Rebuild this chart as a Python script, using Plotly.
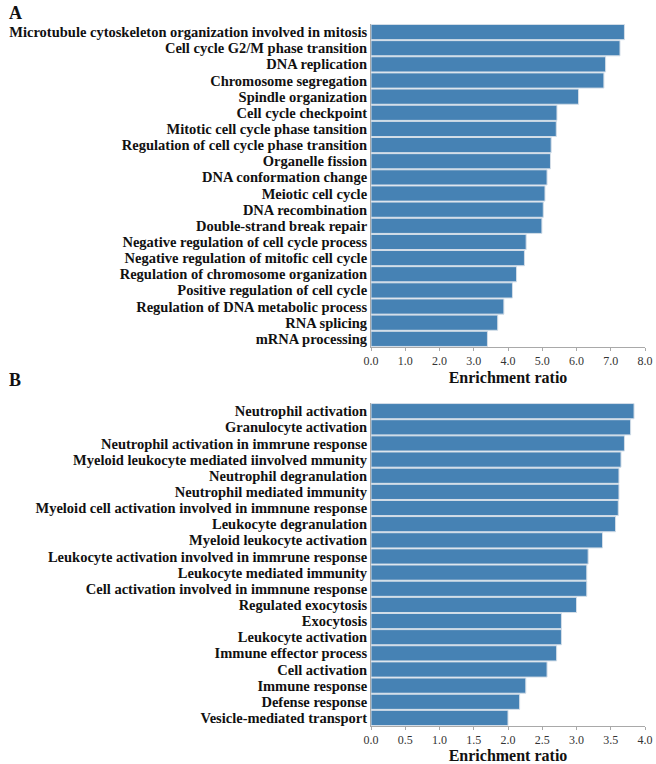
import plotly.graph_objects as go
from plotly.subplots import make_subplots

# ─── DATA ────────────────────────────────────────────────────
TERMS_A = [
    "Microtubule cytoskeleton organization involved in mitosis",
    "Cell cycle G2/M phase transition",
    "DNA replication",
    "Chromosome segregation",
    "Spindle organization",
    "Cell cycle checkpoint",
    "Mitotic cell cycle phase tansition",
    "Regulation of cell cycle phase transition",
    "Organelle fission",
    "DNA conformation change",
    "Meiotic cell cycle",
    "DNA recombination",
    "Double-strand break repair",
    "Negative regulation of cell cycle process",
    "Negative regulation of mitofic cell cycle",
    "Regulation of chromosome organization",
    "Positive regulation of cell cycle",
    "Regulation of DNA metabolic process",
    "RNA splicing",
    "mRNA processing",
]
RATIO_A = [7.40, 7.27, 6.85, 6.80, 6.06, 5.43, 5.41, 5.26, 5.24, 5.14,
           5.08, 5.03, 4.99, 4.53, 4.48, 4.25, 4.13, 3.88, 3.70, 3.40]

TERMS_B = [
    "Neutrophil activation",
    "Granulocyte activation",
    "Neutrophil activation in immrune response",
    "Myeloid leukocyte mediated iinvolved mmunity",
    "Neutrophil degranulation",
    "Neutrophil mediated immunity",
    "Myeloid cell activation involved in immnune response",
    "Leukocyte degranulation",
    "Myeloid leukocyte activation",
    "Leukocyte activation involved in immrune response",
    "Leukocyte mediated immunity",
    "Cell activation involved in immnune response",
    "Regulated exocytosis",
    "Exocytosis",
    "Leukocyte activation",
    "Immune effector process",
    "Cell activation",
    "Immune response",
    "Defense response",
    "Vesicle-mediated transport",
]
RATIO_B = [3.84, 3.79, 3.70, 3.65, 3.62, 3.62, 3.61, 3.57, 3.38, 3.17,
           3.15, 3.15, 3.00, 2.78, 2.78, 2.71, 2.57, 2.26, 2.17, 2.00]

TICKS_A = [0.0, 1.0, 2.0, 3.0, 4.0, 5.0, 6.0, 7.0, 8.0]
TICKS_B = [0.0, 0.5, 1.0, 1.5, 2.0, 2.5, 3.0, 3.5, 4.0]

# ─── STYLE ───────────────────────────────────────────────────
BAR = "#4682B4"
EDGE = "#D4DEE8"
AXIS = "#A9A9A9"
FONT = "Liberation Serif, Times New Roman, serif"

W, H = 656, 764
ML, MR, MT, MB = 371, 11, 24, 38

fig = make_subplots(rows=2, cols=1, vertical_spacing=0.08)

for row, terms, vals in [(1, TERMS_A, RATIO_A), (2, TERMS_B, RATIO_B)]:
    labels = [f"<b>{t}</b>" for t in terms]
    fig.add_trace(go.Bar(
        x=vals,
        y=labels,
        orientation="h",
        marker=dict(color=BAR, line=dict(color=EDGE, width=1)),
        showlegend=False,
    ), row=row, col=1)
    fig.update_yaxes(tickmode="array", tickvals=labels, ticktext=labels,
                     row=row, col=1)

axis_common = dict(
    showgrid=False, zeroline=False, showline=True, automargin=False,
    linecolor=AXIS, linewidth=1, ticks="outside", ticklen=3,
    tickcolor=AXIS, tickformat=".1f",
    tickfont=dict(family=FONT, size=12, color="#333"),
    title=dict(text="<b>Enrichment ratio</b>", standoff=4,
               font=dict(family=FONT, size=16, color="#111")),
)
yaxis_common = dict(
    autorange="reversed", showline=True, linecolor=AXIS, ticks="",
    automargin=False, showgrid=False,
    tickfont=dict(family=FONT, size=14.5, color="#111"),
)

fig.update_layout(
    width=W, height=H,
    paper_bgcolor="white", plot_bgcolor="white",
    margin=dict(l=ML, r=MR, t=MT, b=MB),
    bargap=0.06,
    font=dict(family=FONT, color="#111"),
    xaxis=dict(axis_common, range=[0, 8], tickvals=TICKS_A),
    xaxis2=dict(axis_common, range=[0, 4], tickvals=TICKS_B),
    yaxis=dict(yaxis_common, domain=[0.54, 1.0]),
    yaxis2=dict(yaxis_common, domain=[0.0, 0.46]),
)

# panel letters placed in pixel coordinates converted to paper units
pw, ph = W - ML - MR, H - MT - MB
for letter, px_x, px_y, anchor in [("A", 15, 1, "top"), ("B", 15, 380, "middle")]:
    fig.add_annotation(
        text=f"<b>{letter}</b>", showarrow=False,
        xref="paper", yref="paper",
        x=(px_x - ML) / pw, y=1 - (px_y - MT) / ph,
        xanchor="center", yanchor=anchor,
        font=dict(family=FONT, size=18, color="#111"),
    )

# drop the default page margin so the figure fills the window exactly
fig.write_html("out.html", config={"displayModeBar": False},
               post_script="document.body.style.margin='0';")
